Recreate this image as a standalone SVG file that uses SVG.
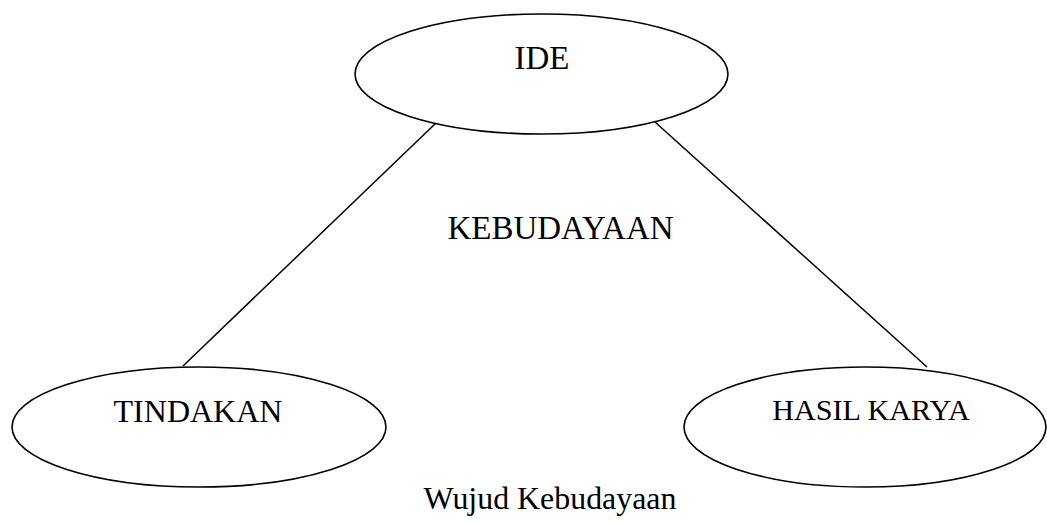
<svg xmlns="http://www.w3.org/2000/svg" width="1047" height="523" viewBox="0 0 1047 523">
<style>
.n{fill:#fff;stroke:#000;stroke-width:1.6}
.c{stroke:#000;stroke-width:1.5;fill:none}
text{font-family:"Liberation Serif","Times New Roman",serif;fill:#000;text-anchor:middle}
</style>
<rect width="1047" height="523" fill="#fff"/>
<g id="connectors">
<line class="c" x1="436" y1="123" x2="183" y2="366"/>
<line class="c" x1="655" y1="122" x2="927" y2="367"/>
</g>
<g id="ide">
<ellipse class="n" cx="541.5" cy="74" rx="186.5" ry="60"/>
<text x="542" y="69" font-size="33">IDE</text>
</g>
<g id="tindakan">
<ellipse class="n" cx="199" cy="427" rx="187" ry="60"/>
<text x="198" y="422" font-size="32">TINDAKAN</text>
</g>
<g id="hasil-karya">
<ellipse class="n" cx="865" cy="427" rx="181" ry="60"/>
<text x="871" y="420" font-size="30.2">HASIL KARYA</text>
</g>
<g id="kebudayaan">
<text x="560.5" y="239" font-size="33">KEBUDAYAAN</text>
</g>
<g id="caption">
<text x="550" y="509" font-size="31.9">Wujud Kebudayaan</text>
</g>
</svg>
